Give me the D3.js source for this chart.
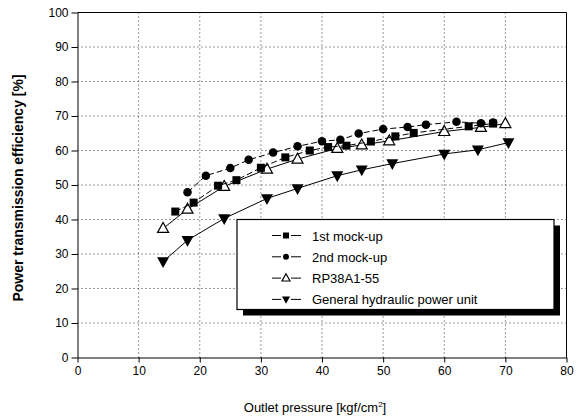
<!DOCTYPE html>
<html>
<head>
<meta charset="utf-8">
<script src="https://cdn.jsdelivr.net/npm/d3@7"></script>
<style>
  body { margin: 0; background: #fff; }
  svg { font-family: "Liberation Sans", Arial, sans-serif; }
  .grid line { stroke: #333; stroke-width: 1; stroke-dasharray: 1,3; }
  .axis path, .axis line { stroke: #000; }
  .axis text { font-size: 12px; fill: #000; }
</style>
</head>
<body>
<div id="chart"></div>
<script>
// 1st mock-up (squares, dashed)
var mock1X = [16, 19, 23, 26, 30, 34, 38, 41, 44, 48, 52, 55, 64, 68];
var mock1Y = [42.3, 44.9, 49.8, 51.4, 55.0, 58.0, 60.0, 61.0, 61.4, 62.6, 64.1, 65.1, 67.0, 67.8];
// 2nd mock-up (circles, dashed)
var mock2X = [18, 21, 25, 28, 32, 36, 40, 43, 46, 50, 54, 57, 62, 66, 68];
var mock2Y = [47.9, 52.7, 54.9, 57.3, 59.4, 61.2, 62.7, 63.1, 64.9, 66.2, 66.8, 67.5, 68.3, 67.9, 68.1];
// RP38A1-55 (open triangles)
var rpX = [14, 18, 24, 31, 36, 42.5, 46.5, 51, 60, 66, 70];
var rpY = [37.4, 43.0, 49.6, 54.6, 57.5, 60.6, 61.6, 62.8, 65.5, 66.7, 67.8];
// General hydraulic power unit (filled down triangles)
var genX = [14, 18, 24, 31, 36, 42.5, 46.5, 51.5, 60, 65.5, 70.5];
var genY = [27.8, 34.0, 40.3, 46.1, 49.0, 52.7, 54.4, 56.2, 59.0, 60.2, 62.3];

var xTicks = [0, 10, 20, 30, 40, 50, 60, 70, 80];
var yTicks = [0, 10, 20, 30, 40, 50, 60, 70, 80, 90, 100];
var seriesNames = ["1st mock-up", "2nd mock-up", "RP38A1-55", "General hydraulic power unit"];

function zip(xs, ys) { return xs.map(function (x, i) { return { x: x, y: ys[i] }; }); }

var series = [
  { name: seriesNames[0], data: zip(mock1X, mock1Y), marker: "square", dash: "6,3" },
  { name: seriesNames[1], data: zip(mock2X, mock2Y), marker: "circle", dash: "6,3" },
  { name: seriesNames[2], data: zip(rpX, rpY), marker: "tri-up", dash: null },
  { name: seriesNames[3], data: zip(genX, genY), marker: "tri-down", dash: null }
];

var totalW = 582, totalH = 416;
var margin = { left: 77.5, top: 12.5, right: 15.5, bottom: 58.5 };
var width = totalW - margin.left - margin.right;
var height = totalH - margin.top - margin.bottom;

var svg = d3.select("#chart").append("svg")
    .attr("width", totalW).attr("height", totalH);
var g = svg.append("g").attr("transform", "translate(" + margin.left + "," + margin.top + ")");

var x = d3.scaleLinear().domain([0, 80]).range([0, width]);
var y = d3.scaleLinear().domain([0, 100]).range([height, 0]);

// dotted grid
g.append("g").attr("class", "grid")
  .selectAll("line").data(xTicks.slice(1, -1)).join("line")
  .attr("x1", function (d) { return x(d); }).attr("x2", function (d) { return x(d); })
  .attr("y1", 0).attr("y2", height);
g.append("g").attr("class", "grid")
  .selectAll("line").data(yTicks.slice(1, -1)).join("line")
  .attr("y1", function (d) { return y(d); }).attr("y2", function (d) { return y(d); })
  .attr("x1", 0).attr("x2", width);

// frame on top and right
g.append("line").attr("x1", 0).attr("x2", width).attr("y1", 0).attr("y2", 0).attr("stroke", "#000");
g.append("line").attr("x1", width).attr("x2", width).attr("y1", 0).attr("y2", height).attr("stroke", "#000");

// axes
g.append("g").attr("class", "axis")
  .attr("transform", "translate(0," + height + ")")
  .call(d3.axisBottom(x).tickValues(xTicks).tickSize(5).tickPadding(4).tickSizeOuter(0));
g.append("g").attr("class", "axis")
  .call(d3.axisLeft(y).tickValues(yTicks).tickSize(6).tickPadding(3).tickSizeOuter(0));

// axis titles
g.append("text")
  .attr("x", width / 2 - 7).attr("y", height + 54)
  .attr("text-anchor", "middle").style("font-size", "13px")
  .html('Outlet pressure [kgf/cm<tspan dy="-5" font-size="8px">2</tspan><tspan dy="5">]</tspan>');

g.append("text")
  .attr("transform", "translate(" + (-55) + "," + (height / 2 + 3) + ") rotate(-90)")
  .attr("text-anchor", "middle").style("font-size", "14px").style("font-weight", "bold")
  .text("Power transmission efficiency [%]");

// marker drawing
function drawMarker(sel, type, size) {
  if (type === "square") {
    sel.append("rect").attr("x", -size / 2).attr("y", -size / 2)
      .attr("width", size).attr("height", size).attr("fill", "#000");
  } else if (type === "circle") {
    sel.append("circle").attr("r", size / 2).attr("fill", "#000");
  } else if (type === "tri-up") {
    var h = size * 0.9;
    sel.append("path").attr("d", "M0," + (-h * 0.6) + "L" + (size / 2) + "," + (h * 0.4) + "L" + (-size / 2) + "," + (h * 0.4) + "Z")
      .attr("fill", "#fff").attr("stroke", "#000").attr("stroke-width", 1.2);
  } else if (type === "tri-down") {
    var h2 = size * 0.9;
    sel.append("path").attr("d", "M0," + (h2 * 0.6) + "L" + (size / 2) + "," + (-h2 * 0.4) + "L" + (-size / 2) + "," + (-h2 * 0.4) + "Z")
      .attr("fill", "#000");
  }
}

var line = d3.line().x(function (d) { return x(d.x); }).y(function (d) { return y(d.y); });

var sizes = { "square": 8, "circle": 8.5, "tri-up": 11, "tri-down": 12 };

series.slice().reverse().forEach(function (s) {
  g.append("path").datum(s.data)
    .attr("d", line).attr("fill", "none").attr("stroke", "#000").attr("stroke-width", 1)
    .attr("stroke-dasharray", s.dash);
  g.append("g").selectAll("g").data(s.data).join("g")
    .attr("transform", function (d) { return "translate(" + x(d.x) + "," + y(d.y) + ")"; })
    .each(function () { drawMarker(d3.select(this), s.marker, sizes[s.marker]); });
});

// legend with shadow
var lg = svg.append("g").attr("transform", "translate(237,219.5)");
var lw = 317, lh = 90;
lg.append("rect").attr("x", 6).attr("y", 6).attr("width", lw).attr("height", lh).attr("fill", "#000");
lg.append("rect").attr("x", 0).attr("y", 0).attr("width", lw).attr("height", lh)
  .attr("fill", "#fff").attr("stroke", "#000").attr("stroke-width", 1.2);

var legendSizes = { "square": 6, "circle": 6, "tri-up": 8, "tri-down": 8 };
series.forEach(function (s, i) {
  var row = lg.append("g").attr("transform", "translate(0," + (16 + i * 21.3) + ")");
  row.append("line").attr("x1", 35).attr("x2", 44).attr("stroke", "#000");
  row.append("line").attr("x1", 54).attr("x2", 64).attr("stroke", "#000");
  var m = row.append("g").attr("transform", "translate(49,0)");
  drawMarker(m, s.marker, legendSizes[s.marker]);
  row.append("text").attr("x", 75).attr("y", 5).style("font-size", "13px").text(s.name);
});
</script>
</body>
</html>
